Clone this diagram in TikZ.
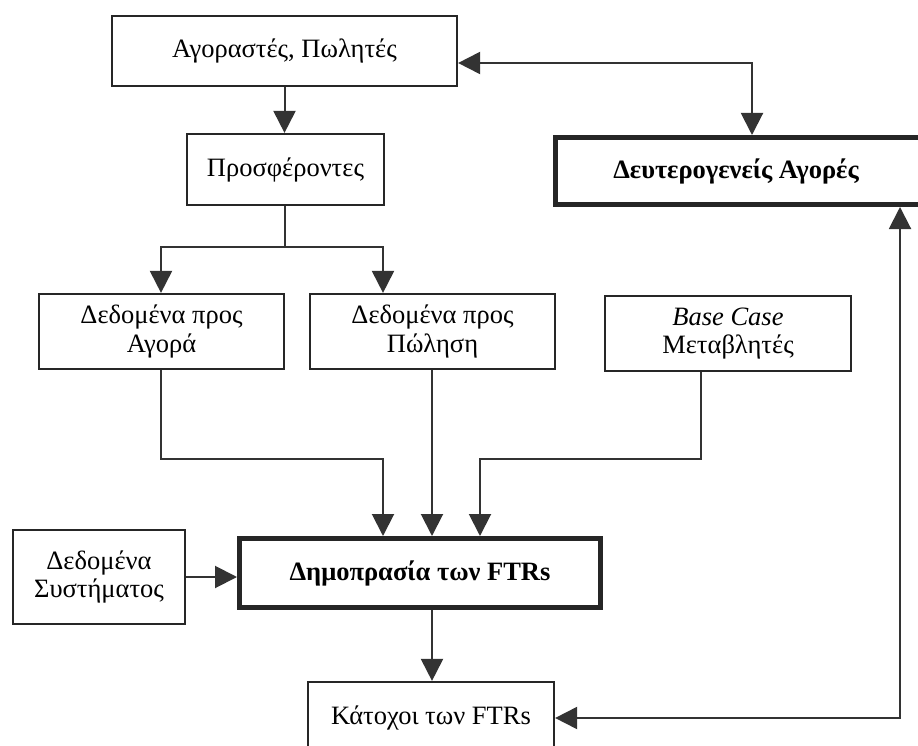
\documentclass[tikz,border=0pt]{standalone}
\usepackage{fontspec}
\setmainfont{Liberation Serif}
\usetikzlibrary{arrows.meta}
\begin{document}
\begin{tikzpicture}[x=1pt,y=-1pt,
  box/.style={draw=black!85, line width=2.2pt, fill=white, align=center,
    font=\fontsize{26.5}{28.5}\selectfont, inner sep=0pt},
  thickbox/.style={box, line width=5pt, font=\fontsize{26.5}{28.5}\selectfont\bfseries},
  conn/.style={draw=black!80, line width=2pt},
  arr/.style={conn, -{Triangle[length=22pt,width=22pt]}},
  darr/.style={conn, {Triangle[length=22pt,width=22pt]}-{Triangle[length=22pt,width=22pt]}}]
\useasboundingbox (0,0) rectangle (918,746);
\fill[white] (0,0) rectangle (918,746);
\clip (0,0) rectangle (918,746);

\node[box, minimum width=345pt, minimum height=70pt] (A) at (284.5,51) {Αγοραστές, Πωλητές};
\node[box, minimum width=197pt, minimum height=71pt] (P) at (285.5,169.5) {Προσφέροντες};
\node[thickbox, minimum width=376pt, minimum height=67pt] (D) at (743,171) {\hspace*{-14pt}Δευτερογενείς Αγορές};
\node[box, minimum width=245pt, minimum height=75pt] (DA) at (161.5,331.5) {Δεδομένα προς\\Αγορά};
\node[box, minimum width=245pt, minimum height=75pt] (DP) at (432.5,331.5) {Δεδομένα προς\\Πώληση};
\node[box, minimum width=246pt, minimum height=75pt] (BC) at (728,333.5) {\textit{Base Case}\\Μεταβλητές};
\node[box, minimum width=172pt, minimum height=94pt] (DS) at (99,577) {Δεδομένα\\Συστήματος};
\node[thickbox, minimum width=361pt, minimum height=69pt] (AU) at (420,573) {Δημοπρασία των FTRs};
\node[box, minimum width=246pt, minimum height=72pt] (K) at (431,718) {Κάτοχοι των FTRs};

\draw[arr] (A.south) -- (A.south |- P.north);

\coordinate (j1) at (752,63);
\draw[darr] (A.east |- j1) -- (j1) -- (j1 |- D.north);

\coordinate (j2) at (285,247);
\coordinate (j2l) at (161,247);
\coordinate (j2r) at (383,247);
\draw[conn] (P.south -| j2) -- (j2);
\draw[arr] (j2) -- (j2l) -- (j2l |- DA.north);
\draw[arr] (j2) -- (j2r) -- (j2r |- DP.north);

\coordinate (m1) at (161,459);
\coordinate (m2) at (383,459);
\coordinate (m3) at (432,459);
\coordinate (m4) at (701,459);
\coordinate (m5) at (480,459);
\draw[arr] (DA.south -| m1) -- (m1) -- (m2) -- (m2 |- AU.north);
\draw[arr] (DP.south -| m3) -- (m3 |- AU.north);
\draw[arr] (BC.south -| m4) -- (m4) -- (m5) -- (m5 |- AU.north);

\draw[arr] (DS.east) -- (DS.east -| AU.west);
\draw[arr] (m3 |- AU.south) -- (m3 |- K.north);

\coordinate (r1) at (900,718);
\draw[darr] (K.east) -- (r1) -- (r1 |- D.south);
\end{tikzpicture}
\end{document}
